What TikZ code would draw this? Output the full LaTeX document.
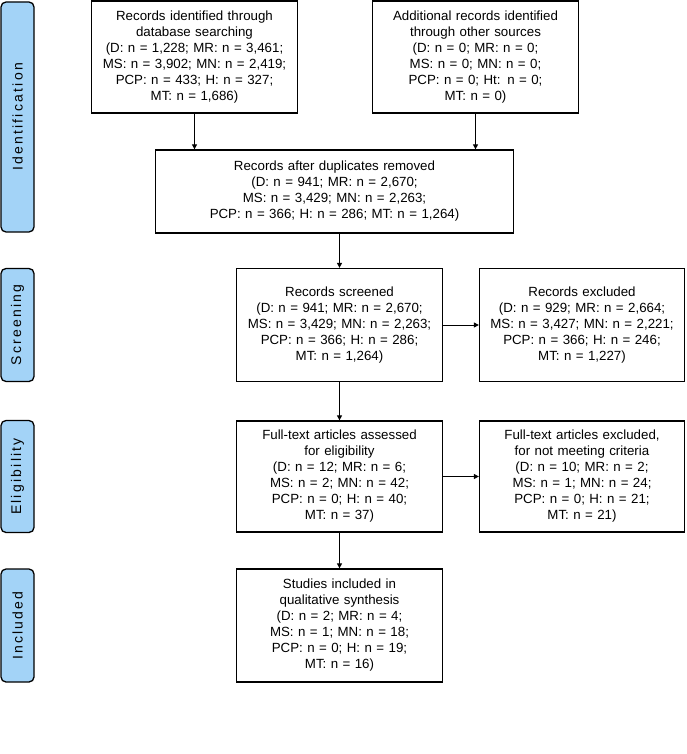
\documentclass[tikz,border=0pt]{standalone}
\usepackage{fontspec}
\setmainfont{Liberation Sans}
\usetikzlibrary{arrows.meta}
\definecolor{phaseblue}{RGB}{163,211,247}

\begin{document}
\begin{tikzpicture}[x=1pt,y=-1pt,
  box/.style={rectangle,draw,line width=1.3pt,inner sep=0pt,align=center,
              font=\fontsize{13.3}{16}\selectfont},
  phase/.style={rectangle,draw,line width=1.3pt,rounded corners=5pt,fill=phaseblue,
              rotate=90,minimum height=33pt,inner sep=0pt,
              font=\fontsize{14}{16}\selectfont\addfontfeature{LetterSpace=16}},
  flow/.style={line width=1pt,-{Triangle[length=5pt,width=5pt]}}]
\useasboundingbox (0,0) rectangle (686,754);

% phase labels
\node[phase,minimum width=230pt] (lid)  at (17.5,117)   {Identification};
\node[phase,minimum width=113pt] (lscr) at (17.5,325)   {Screening};
\node[phase,minimum width=112pt] (lel)  at (17.5,476.5) {Eligibility};
\node[phase,minimum width=113pt] (linc) at (17.5,625.5) {Included};

% boxes
\node[box,text width=206pt,minimum height=112pt] (db) at (194.5,57)
  {Records identified through\\database searching\\(D: n = 1,228; MR: n = 3,461;\\MS: n = 3,902; MN: n = 2,419;\\PCP: n = 433; H: n = 327;\\MT: n = 1,686)};
\node[box,text width=206pt,minimum height=112pt] (other) at (475.5,57)
  {Additional records identified\\through other sources\\(D: n = 0; MR: n = 0;\\MS: n = 0; MN: n = 0;\\PCP: n = 0; Ht: n = 0;\\MT: n = 0)};
\node[box,text width=358pt,minimum height=83pt] (dup) at (334.5,191.5)
  {Records after duplicates removed\\(D: n = 941; MR: n = 2,670;\\MS: n = 3,429; MN: n = 2,263;\\PCP: n = 366; H: n = 286; MT: n = 1,264)};
\node[box,text width=206pt,minimum height=113pt] (scr) at (339.5,325)
  {Records screened\\(D: n = 941; MR: n = 2,670;\\MS: n = 3,429; MN: n = 2,263;\\PCP: n = 366; H: n = 286;\\MT: n = 1,264)};
\node[box,text width=205pt,minimum height=113pt] (excl) at (582,325)
  {Records excluded\\(D: n = 929; MR: n = 2,664;\\MS: n = 3,427; MN: n = 2,221;\\PCP: n = 366; H: n = 246;\\MT: n = 1,227)};
\node[box,text width=206pt,minimum height=111pt] (full) at (339.5,476.5)
  {Full-text articles assessed\\for eligibility\\(D: n = 12; MR: n = 6;\\MS: n = 2; MN: n = 42;\\PCP: n = 0; H: n = 40;\\MT: n = 37)};
\node[box,text width=205pt,minimum height=111pt] (fexcl) at (582,476.5)
  {Full-text articles excluded,\\for not meeting criteria\\(D: n = 10; MR: n = 2;\\MS: n = 1; MN: n = 24;\\PCP: n = 0; H: n = 21;\\MT: n = 21)};
\node[box,text width=206pt,minimum height=113pt] (incl) at (339.5,625.5)
  {Studies included in\\qualitative synthesis\\(D: n = 2; MR: n = 4;\\MS: n = 1; MN: n = 18;\\PCP: n = 0; H: n = 19;\\MT: n = 16)};

% arrows
\draw[flow] (db.south) -- (db.south |- dup.north);
\draw[flow] (other.south) -- (other.south |- dup.north);
\draw[flow] (scr.north |- dup.south) -- (scr.north);
\draw[flow] (scr) -- (excl);
\draw[flow] (scr) -- (full);
\draw[flow] (full) -- (fexcl);
\draw[flow] (full) -- (incl);
\end{tikzpicture}
\end{document}
